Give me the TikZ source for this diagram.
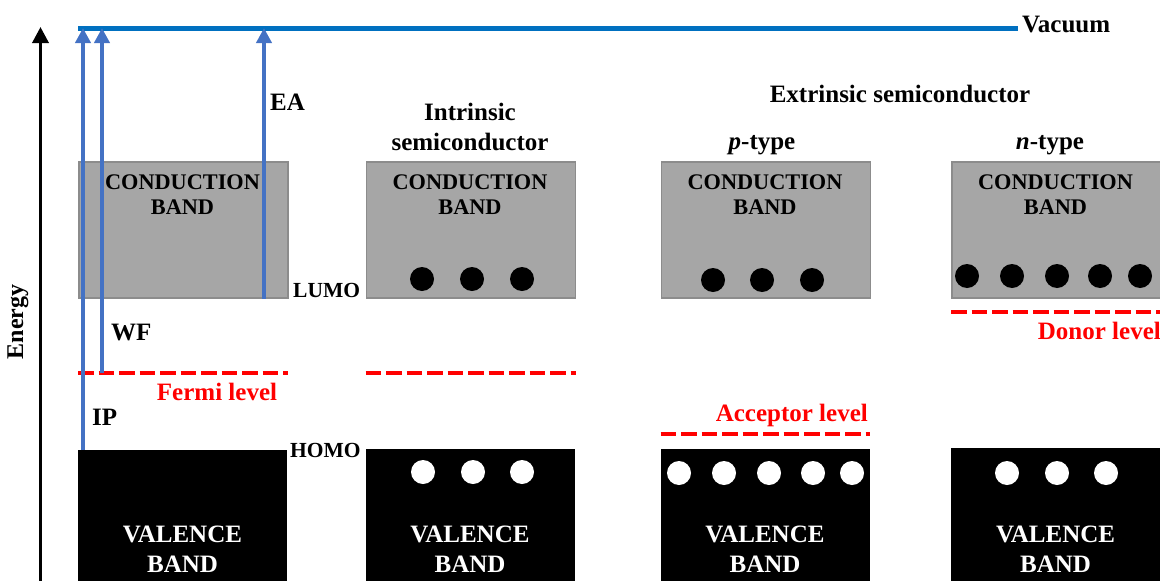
\documentclass[tikz,border=0pt]{standalone}
\usepackage{fontspec}
\setmainfont{Liberation Serif}
\usetikzlibrary{arrows.meta}
\definecolor{cbgray}{HTML}{A6A6A6}
\definecolor{cbedge}{HTML}{8C8C8C}
\definecolor{vacblue}{HTML}{0070C0}
\definecolor{arrblue}{HTML}{4472C4}
\definecolor{lvlred}{HTML}{FF0000}
\begin{document}
\begin{tikzpicture}[x=1pt,y=-1pt,
  cband/.style={draw=cbedge,line width=1.5pt,fill=cbgray,minimum width=209pt,
    minimum height=136pt,anchor=north west,inner sep=0pt},
  vband/.style={fill=black,minimum width=209pt,minimum height=140pt,
    anchor=north west,inner sep=0pt},
  ctxt/.style={font=\bfseries\fontsize{22.3}{25}\selectfont,align=center,inner sep=0pt},
  vtxt/.style={font=\bfseries\fontsize{25}{30}\selectfont,align=center,text=white,inner sep=0pt},
  lbl/.style={font=\bfseries\fontsize{25}{30}\selectfont,inner sep=0pt,align=center},
  smalllbl/.style={font=\bfseries\fontsize{21.5}{24}\selectfont,inner sep=0pt},
  redlbl/.style={font=\bfseries\fontsize{25}{28}\selectfont,text=lvlred,inner sep=0pt},
  elec/.style={circle,fill=black,minimum size=24pt,inner sep=0pt},
  hole/.style={circle,fill=white,minimum size=24pt,inner sep=0pt},
  level/.style={draw=lvlred,line width=4pt,dash pattern=on 15.5pt off 5pt},
  jump/.style={draw=arrblue,line width=4.5pt,-{Triangle[width=15pt,length=15pt]}},
]
\useasboundingbox (0,0) rectangle (1160,581);

% energy axis
\coordinate (ax0) at (40.5,585);
\coordinate (ax1) at (40.5,27);
\draw[line width=3.5pt,-{Triangle[width=16pt,length=16pt]}] (ax0) -- (ax1);
\node[lbl,rotate=90,font=\bfseries\fontsize{24}{28}\selectfont] (energy) at (18,322) {Energy};

% vacuum level
\coordinate (vacL) at (78,28);
\coordinate (vacR) at (1018,28);
\draw[draw=vacblue,line width=5pt] (vacL) -- (vacR);
\node[lbl,anchor=west] (vac) at (1022,25) {Vacuum};

% conduction bands
\node[cband] (cb1) at (78,161) {};
\node[cband] (cb2) at (365.5,161) {};
\node[cband] (cb3) at (660.5,161) {};
\node[cband] (cb4) at (951,161) {};
\foreach \n/\x in {1/182.5,2/470,3/765,4/1055.5}{
  \node[ctxt] (ct\n) at (\x,195) {CONDUCTION\\BAND};
}

% valence bands
\node[vband] (vb1) at (78,450) {};
\node[vband] (vb2) at (365.5,449) {};
\node[vband] (vb3) at (660.5,449) {};
\node[vband] (vb4) at (951,448) {};
\foreach \n/\x in {1/182.5,2/470,3/765,4/1055.5}{
  \node[vtxt] (vt\n) at (\x,549) {VALENCE\\BAND};
}

% electrons
\foreach \x [count=\i] in {422,472,522}{\node[elec] (e2\i) at (\x,279) {};}
\foreach \x [count=\i] in {713,762,812}{\node[elec] (e3\i) at (\x,280) {};}
\foreach \x [count=\i] in {967,1012,1057,1100,1140}{\node[elec] (e4\i) at (\x,276) {};}

% holes
\foreach \x [count=\i] in {423,473,522}{\node[hole] (h2\i) at (\x,472) {};}
\foreach \x [count=\i] in {679,724,769,813,852}{\node[hole] (h3\i) at (\x,473) {};}
\foreach \x [count=\i] in {1007,1057,1106}{\node[hole] (h4\i) at (\x,473) {};}

% Fermi, acceptor and donor levels
\coordinate (f1L) at (78,373);  \coordinate (f1R) at (288,373);
\coordinate (f2L) at (365.5,373); \coordinate (f2R) at (576,373);
\coordinate (acL) at (660.5,434); \coordinate (acR) at (870,434);
\coordinate (doL) at (951,312); \coordinate (doR) at (1160,312);
\draw[level] (f1L) -- (f1R);
\draw[level] (f2L) -- (f2R);
\draw[level] (acL) -- (acR);
\draw[level] (doL) -- (doR);
\node[redlbl] (fermi) at (217,392) {Fermi level};
\node[redlbl,anchor=east] (acc) at (868,415) {Acceptor level};
\node[redlbl,anchor=east] (don) at (1161,331) {Donor level};

% IP, WF and EA transitions
\coordinate (ipT) at (83,28);
\coordinate (wfT) at (102,28);
\coordinate (eaT) at (264,28);
\draw[jump] (83,450) -- (ipT);
\draw[jump] (f1L -| wfT) -- (wfT);
\draw[jump] (cb1.south -| eaT) -- (eaT);
\node[lbl,anchor=west] (ea) at (270,102) {EA};
\node[lbl,anchor=west] (wf) at (111,333) {WF};
\node[lbl,anchor=west] (ip) at (92,417) {IP};
\node[smalllbl,anchor=west] (lumo) at (293,290) {LUMO};
\node[smalllbl,anchor=west] (homo) at (290,450) {HOMO};

% headings
\node[lbl] (intr) at (470,127) {Intrinsic\\semiconductor};
\node[lbl] (extr) at (900,94) {Extrinsic semiconductor};
\node[lbl] (ptype) at (762,145) {\textit{p}-type};
\node[lbl] (ntype) at (1050,145) {\textit{n}-type};
\end{tikzpicture}
\end{document}
